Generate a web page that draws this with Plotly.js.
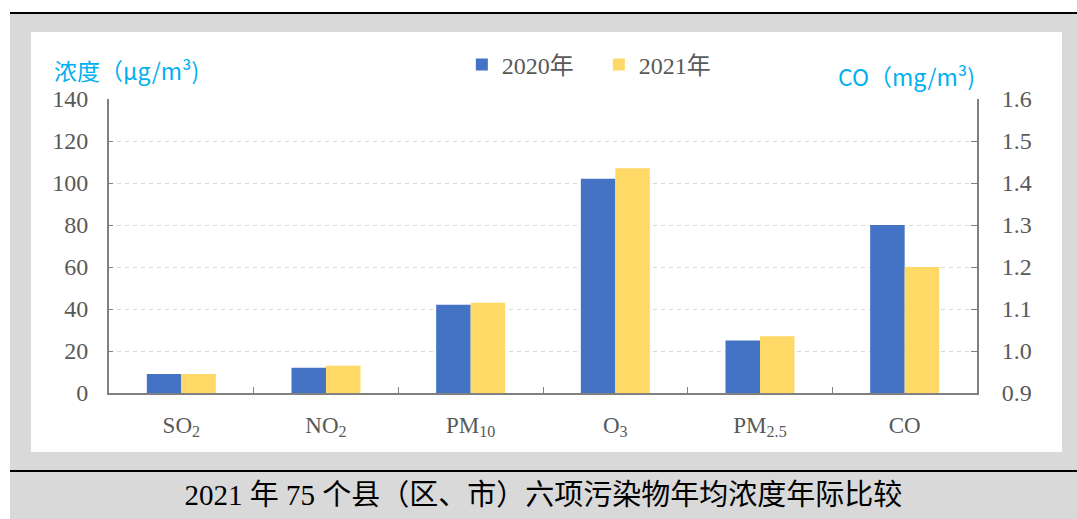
<!DOCTYPE html>
<html>
<head>
<meta charset="utf-8">
<script src="https://cdn.plot.ly/plotly-3.0.1.min.js"></script>
<style>
  html, body { margin: 0; padding: 0; background: #ffffff; width: 1077px; height: 519px; overflow: hidden; }
  #frame { position: absolute; left: 10px; top: 13px; width: 1067px; height: 506px; background: #d9d9d9; }
  #topline { position: absolute; left: 10px; top: 12px; width: 1067px; height: 2px; background: #000; }
  #botline { position: absolute; left: 10px; top: 470px; width: 1067px; height: 2px; background: #000; }
  #panel { position: absolute; left: 31px; top: 32px; width: 1031px; height: 420px; background: #fff; }
  #chart { position: absolute; left: 31px; top: 32px; width: 1031px; height: 420px; }
  #caption { position: absolute; left: 10px; top: 472px; width: 1067px; height: 47px; line-height: 47px;
             text-align: center; font-family: "Liberation Serif", "Noto Sans CJK SC", serif; font-size: 29px; color: #000; }
</style>
</head>
<body>
<div id="frame"></div>
<div id="topline"></div>
<div id="botline"></div>
<div id="panel"></div>
<div id="chart"></div>
<div id="caption">2021 年 75 个县（区、市）六项污染物年均浓度年际比较</div>
<script>
// Categories (tick labels)
const categories = ['SO<sub>2</sub>', 'NO<sub>2</sub>', 'PM<sub>10</sub>', 'O<sub>3</sub>', 'PM<sub>2.5</sub>', 'CO'];
const ugCategories = ['SO<sub>2</sub>', 'NO<sub>2</sub>', 'PM<sub>10</sub>', 'O<sub>3</sub>', 'PM<sub>2.5</sub>'];
const coCategory = ['CO'];
// μg/m³ series
const values2020 = [9, 12, 42, 102, 25];
const values2021 = [9, 13, 43, 107, 27];
// CO in mg/m³ (right axis)
const co2020 = [1.3];
const co2021 = [1.2];
const seriesNames = ['2020年', '2021年'];

const blue = '#4472c4';
const yellow = '#ffd966';
const serif = '"Liberation Serif", "Noto Sans CJK SC", serif';

const traces = [
  { type: 'bar', name: seriesNames[0], x: ugCategories, y: values2020, marker: { color: blue }, offsetgroup: 'a', legendgroup: 'a', yaxis: 'y' },
  { type: 'bar', name: seriesNames[1], x: ugCategories, y: values2021, marker: { color: yellow }, offsetgroup: 'b', legendgroup: 'b', yaxis: 'y' },
  { type: 'bar', name: seriesNames[0], x: coCategory, y: co2020, marker: { color: blue }, offsetgroup: 'a', legendgroup: 'a', yaxis: 'y2', showlegend: false },
  { type: 'bar', name: seriesNames[1], x: coCategory, y: co2021, marker: { color: yellow }, offsetgroup: 'b', legendgroup: 'b', yaxis: 'y2', showlegend: false }
];

const layout = {
  width: 1031, height: 420,
  margin: { l: 78, r: 85, t: 67, b: 59, pad: 0, autoexpand: false },
  paper_bgcolor: 'rgba(0,0,0,0)', plot_bgcolor: '#ffffff',
  barmode: 'group', bargap: 0.523, bargroupgap: 0,
  font: { family: serif, color: '#595959', size: 22 },
  showlegend: true,
  legend: { orientation: 'h', x: 0.4065, xanchor: 'left', y: 1.116, yanchor: 'middle',
            font: { family: serif, size: 24, color: '#595959' }, bgcolor: 'rgba(0,0,0,0)',
            traceorder: 'normal', entrywidth: 92, entrywidthmode: 'pixels' },
  xaxis: {
    type: 'category', categoryorder: 'array', categoryarray: categories,
    showline: true, linecolor: '#808080', linewidth: 2,
    ticks: 'inside', tickson: 'boundaries', ticklen: 6, tickcolor: '#808080', tickwidth: 1,
    tickfont: { family: serif, size: 23, color: '#595959' }, ticklabelstandoff: 10,
    showgrid: false, zeroline: false, fixedrange: true
  },
  yaxis: {
    range: [0, 140], dtick: 20, tick0: 0,
    showline: true, linecolor: '#808080', linewidth: 2,
    ticks: 'inside', ticklen: 4, tickcolor: '#808080',
    tickfont: { family: serif, size: 24, color: '#595959' }, ticklabelstandoff: 14,
    showgrid: true, gridcolor: '#d9d9d9', gridwidth: 1, griddash: '4px,4px',
    zeroline: false, fixedrange: true
  },
  yaxis2: {
    overlaying: 'y', side: 'right',
    range: [0.9, 1.6], dtick: 0.1, tick0: 0.9, tickformat: '.1f',
    showline: true, linecolor: '#808080', linewidth: 2,
    ticks: 'inside', ticklen: 6, tickcolor: '#808080',
    tickfont: { family: serif, size: 24, color: '#595959' }, ticklabelstandoff: 18,
    showgrid: false, zeroline: false, fixedrange: true
  },
  annotations: [
    { text: '浓度（μg/m³)', xref: 'paper', yref: 'paper', x: -0.0657, y: 1.099, xanchor: 'left', yanchor: 'middle',
      showarrow: false, font: { family: '"Noto Sans CJK SC", sans-serif', size: 23, color: '#00b0f0' } },
    { text: 'CO（mg/m³)', xref: 'paper', yref: 'paper', x: 1, y: 1.0785, xanchor: 'right', yanchor: 'middle',
      showarrow: false, font: { family: '"Noto Sans CJK SC", sans-serif', size: 23, color: '#00b0f0' } }
  ]
};

Plotly.newPlot('chart', traces, layout, { staticPlot: true, displayModeBar: false });
</script>
</body>
</html>
